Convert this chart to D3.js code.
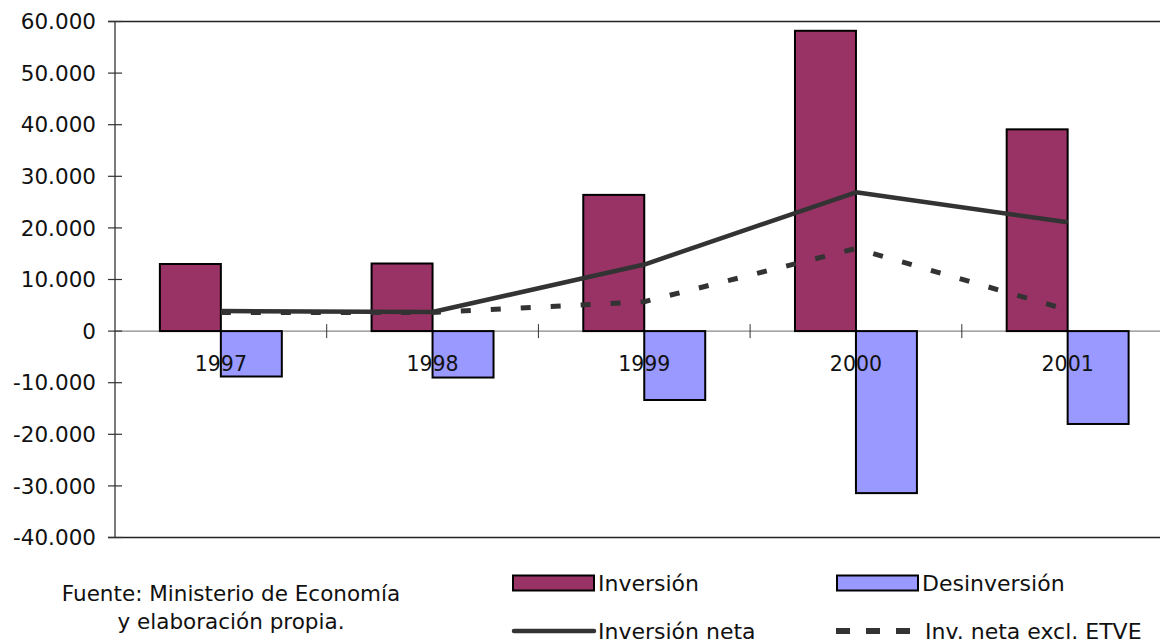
<!DOCTYPE html>
<html>
<head>
<meta charset="utf-8">
<script src="https://cdn.jsdelivr.net/npm/d3@7"></script>
<style>
  html, body { margin: 0; padding: 0; background: #fff; }
  svg { display: block; font-family: "DejaVu Sans", Verdana, sans-serif; }
</style>
</head>
<body>
<svg id="chart" width="1160" height="641"></svg>
<script>
// Inversión extranjera: flujos anuales (millones)
const years = ["1997", "1998", "1999", "2000", "2001"];
const inversion = [13000, 13100, 26400, 58200, 39100];
const desinversion = [-8800, -9000, -13350, -31400, -18000];
const inversionNeta = [3900, 3700, 12900, 26900, 21100];
const invNetaExclETVE = [3600, 3600, 5700, 16000, 4100];
const yTicks = [60000, 50000, 40000, 30000, 20000, 10000, 0, -10000, -20000, -30000, -40000];

const seriesNames = ["Inversión", "Desinversión", "Inversión neta", "Inv. neta excl. ETVE"];
const sourceLines = ["Fuente: Ministerio de Economía", "y elaboración propia."];

const colInv = "#993366";
const colDes = "#9999ff";
const colLine = "#333333";

const svg = d3.select("#chart");
const FS_AXIS = 21.5, FS_CAT = 20.5, FS_LEG = 22, FS_SRC = 21.5;

const es = d3.formatLocale({ decimal: ",", thousands: ".", grouping: [3], currency: ["", "€"], minus: "-" });
const fmt = es.format(",.0f");

const plotLeft = 115, plotTop = 21.5, plotBottom = 537.5;
const x = d3.scaleBand().domain(years).range([plotLeft, plotLeft + 5 * 211.7]).padding(0);
const y = d3.scaleLinear().domain([-40000, 60000]).range([plotBottom, plotTop]);
const barW = x.bandwidth() * 0.288;
const cx = d => x(d) + x.bandwidth() / 2;

// horizontal frame lines (top & bottom)
svg.append("line").attr("x1", 108).attr("x2", 1160).attr("y1", y(60000)).attr("y2", y(60000))
  .attr("stroke", "#222").attr("stroke-width", 1.5);
svg.append("line").attr("x1", 108).attr("x2", 1160).attr("y1", y(-40000)).attr("y2", y(-40000))
  .attr("stroke", "#222").attr("stroke-width", 1.5);

// zero line
svg.append("line").attr("x1", plotLeft).attr("x2", 1160).attr("y1", y(0)).attr("y2", y(0))
  .attr("stroke", "#888").attr("stroke-width", 1.2);

// category separator ticks on zero line
svg.append("g").selectAll("line").data(years.slice(1)).join("line")
  .attr("x1", d => x(d)).attr("x2", d => x(d))
  .attr("y1", y(0) - 7).attr("y2", y(0) + 7)
  .attr("stroke", "#333").attr("stroke-width", 1);

// y axis
svg.append("line").attr("x1", plotLeft).attr("x2", plotLeft).attr("y1", plotTop).attr("y2", plotBottom)
  .attr("stroke", "#333").attr("stroke-width", 1.3);
const yg = svg.append("g");
yg.selectAll("line").data(yTicks).join("line")
  .attr("x1", plotLeft - 7).attr("x2", plotLeft + 7)
  .attr("y1", d => y(d)).attr("y2", d => y(d))
  .attr("stroke", "#333").attr("stroke-width", 1.2);
yg.selectAll("text").data(yTicks).join("text")
  .attr("x", 96).attr("y", d => y(d)).attr("dy", "0.36em")
  .attr("text-anchor", "end").attr("font-size", FS_AXIS).attr("fill", "#111")
  .text(d => fmt(d));

// bars
svg.append("g").selectAll("rect").data(years).join("rect")
  .attr("x", d => cx(d) - barW).attr("width", barW)
  .attr("y", (d, i) => y(inversion[i])).attr("height", (d, i) => y(0) - y(inversion[i]))
  .attr("fill", colInv).attr("stroke", "#000").attr("stroke-width", 2);
svg.append("g").selectAll("rect").data(years).join("rect")
  .attr("x", d => cx(d)).attr("width", barW)
  .attr("y", y(0)).attr("height", (d, i) => y(desinversion[i]) - y(0))
  .attr("fill", colDes).attr("stroke", "#000").attr("stroke-width", 2);

// category labels
svg.append("g").selectAll("text").data(years).join("text")
  .attr("x", d => cx(d)).attr("y", 370.5)
  .attr("text-anchor", "middle").attr("font-size", FS_CAT).attr("fill", "#111")
  .text(d => d);

// lines
const line = d3.line().x((d, i) => cx(years[i])).y(d => y(d));
svg.append("path").datum(inversionNeta).attr("d", line)
  .attr("fill", "none").attr("stroke", colLine).attr("stroke-width", 4.5).attr("stroke-linejoin", "round");
svg.append("path").datum(invNetaExclETVE).attr("d", line)
  .attr("fill", "none").attr("stroke", colLine).attr("stroke-width", 5)
  .attr("stroke-dasharray", "10,20");

// source note
const src = svg.append("text").attr("font-size", FS_SRC).attr("fill", "#111").attr("text-anchor", "middle");
sourceLines.forEach((t, i) => src.append("tspan").attr("x", 231).attr("y", 601 + i * 28).text(t));

// legend
const lg = svg.append("g").attr("font-size", FS_LEG).attr("fill", "#111");
[[513, colInv, 0], [837, colDes, 1]].forEach(([lx, c, i]) => {
  lg.append("rect").attr("x", lx).attr("y", 575.5).attr("width", 81).attr("height", 15)
    .attr("fill", c).attr("stroke", "#000").attr("stroke-width", 2);
  lg.append("text").attr("x", lx + 85).attr("y", 583).attr("dy", "0.36em").text(seriesNames[i]);
});
lg.append("line").attr("x1", 514).attr("x2", 594).attr("y1", 631).attr("y2", 631)
  .attr("stroke", colLine).attr("stroke-width", 4.5).attr("stroke-linecap", "round");
lg.append("text").attr("x", 598).attr("y", 631).attr("dy", "0.36em").text(seriesNames[2]);
lg.append("line").attr("x1", 836).attr("x2", 910).attr("y1", 631).attr("y2", 631)
  .attr("stroke", colLine).attr("stroke-width", 6).attr("stroke-dasharray", "14,16");
lg.append("text").attr("x", 925).attr("y", 631).attr("dy", "0.36em").text(seriesNames[3]);
</script>
</body>
</html>
